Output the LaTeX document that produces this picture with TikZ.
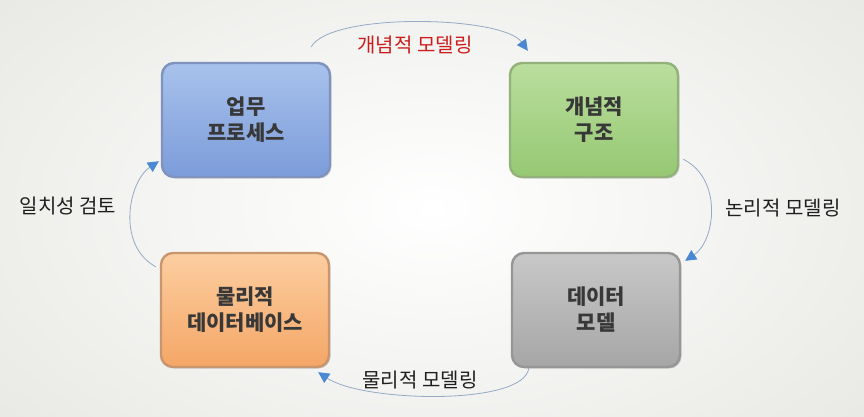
\documentclass[tikz,border=0pt]{standalone}
\usepackage{fontspec}
\setmainfont{Noto Sans CJK KR}
\usetikzlibrary{arrows.meta,shadows,calc}
\definecolor{bgedge}{HTML}{E8E8E4}
\definecolor{arrowline}{HTML}{94AAC6}
\definecolor{arrowhead}{HTML}{4A88D2}
\definecolor{boxtext}{HTML}{383838}
\tikzset{
  modelbox/.style={rounded corners=12pt, minimum width=168pt, minimum height=114pt,
    align=center, font=\fontsize{21}{26}\selectfont\bfseries, text=boxtext,
    line width=2.4pt, drop shadow={shadow xshift=1.5pt, shadow yshift=-1.5pt, opacity=0.35}},
  flow/.style={draw=arrowline, line width=0.8pt, -{Triangle[length=11pt,width=11pt,fill=arrowhead,color=arrowhead]}},
  flowlabel/.style={font=\fontsize{20}{24}\selectfont, text=black!88}
}
\begin{document}
\begin{tikzpicture}[x=1pt,y=-1pt]
\useasboundingbox (0,0) rectangle (864,416);
\shade[inner color=white, outer color=bgedge] (-150,-130) rectangle (1014,546);
\node[modelbox, draw={rgb,255:red,128;green,146;blue,190}, top color={rgb,255:red,168;green,194;blue,236}, bottom color={rgb,255:red,124;green,156;blue,218}] (b1) at (246,120) {업무\\프로세스};
\node[modelbox, draw={rgb,255:red,146;green,178;blue,122}, top color={rgb,255:red,186;green,222;blue,158}, bottom color={rgb,255:red,150;green,200;blue,114}] (b2) at (594,120) {개념적\\구조};
\node[modelbox, draw={rgb,255:red,150;green,150;blue,150}, top color={rgb,255:red,200;green,200;blue,200}, bottom color={rgb,255:red,166;green,166;blue,166}] (b3) at (596,310) {데이터\\모델};
\node[modelbox, draw={rgb,255:red,200;green,150;blue,110}, top color={rgb,255:red,252;green,206;blue,160}, bottom color={rgb,255:red,244;green,166;blue,102}] (b4) at (245,310) {물리적\\데이터베이스};

\node[flowlabel, text={rgb,255:red,205;green,30;blue,30}] (l1) at (415,45) {개념적 모델링};
\node[flowlabel] (l2) at (783,208) {논리적 모델링};
\node[flowlabel] (l3) at (420,380) {물리적 모델링};
\node[flowlabel] (l4) at (68,206) {일치성 검토};

\draw[flow] ($(b1.north east)+(-20,-15)$) .. controls +(20,-35) and +(-25,-35) .. ($(b2.north west)+(19,-11)$);
\draw[flow] ($(b2.south east)+(4,-19)$) .. controls +(40,20) and +(30,-20) .. ($(b3.north east)+(4,9)$);
\draw[flow] ($(b3.south west)+(18,0)$) .. controls +(-5,38) and +(45,30) .. ($(b4.south east)+(-12,4)$);
\draw[flow] ($(b4.north west)+(-4,15)$) .. controls +(-40,-22) and +(-30,20) .. ($(b1.south west)+(-2,-17)$);
\end{tikzpicture}
\end{document}
